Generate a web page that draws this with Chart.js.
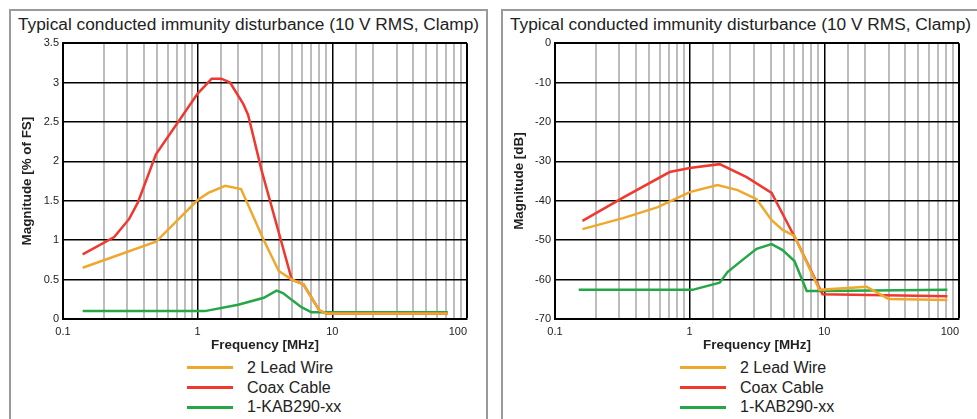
<!DOCTYPE html>
<html lang="en">
<head>
  <meta charset="UTF-8" />
  <title>Typical conducted immunity disturbance</title>
  <script src="https://cdn.jsdelivr.net/npm/chart.js"></script>
  <style>
    body {
      margin: 0;
      background: #fff;
      font-family: 'Liberation Sans', Arial, sans-serif;
      width: 977px;
      height: 419px;
      overflow: hidden;
      position: relative;
    }
    .panel {
      position: absolute;
      top: 9px;
      width: 475px;
      height: 420px;
      border: 2px solid #9a9a9a;
      border-bottom: none;
      background: #fff;
    }
    .panel canvas { position: absolute; left: 0; top: 0; }
    .title {
      position: absolute;
      left: 0;
      top: 1px;
      width: 475px;
      line-height: 24px;
      text-align: center;
      font-size: 17.3px;
      color: #222;
      white-space: nowrap;
    }
    .legend { position: absolute; left: 176px; top: 347px; }
    .legend .row {
      height: 19.7px;
      display: flex;
      align-items: center;
      font-size: 16px;
      color: #222;
      white-space: nowrap;
    }
    .legend .line { width: 46px; height: 3px; margin-right: 14px; }
  </style>
</head>
<body>
  <div class="panel" style="left:9px">
    <div class="title">Typical conducted immunity disturbance (10 V RMS, Clamp)</div>
    <canvas id="chartPct" width="486" height="342"></canvas>
    <div class="legend" id="legendPct"></div>
  </div>
  <div class="panel" style="left:501px">
    <div class="title">Typical conducted immunity disturbance (10 V RMS, Clamp)</div>
    <canvas id="chartDb" width="486" height="342"></canvas>
    <div class="legend" id="legendDb" style="left:177px"></div>
  </div>

  <script>
    const seriesNames = ['2 Lead Wire', 'Coax Cable', '1-KAB290-xx'];
    const seriesColors = ['#efa82c', '#f0382f', '#25a647'];
    const freqTickLabels = ['0.1', '1', '10', '100'];

    // left chart: magnitude in % of FS
    const leadFreqPct = [0.14, 0.49, 1.0, 1.2, 1.6, 2.1, 3.1, 4.0, 5.0, 6.1, 8.0, 9.0, 72];
    const leadPct = [0.65, 0.98, 1.51, 1.6, 1.69, 1.65, 1.0, 0.61, 0.5, 0.44, 0.11, 0.07, 0.07];
    const coaxFreqPct = [0.14, 0.24, 0.31, 0.36, 0.49, 1.0, 1.27, 1.5, 1.74, 2.18, 2.37, 2.98, 5.0, 6.1, 8.0, 9.0, 72];
    const coaxPct = [0.82, 1.04, 1.27, 1.48, 2.09, 2.86, 3.05, 3.05, 3.0, 2.73, 2.59, 1.89, 0.5, 0.44, 0.11, 0.07, 0.07];
    const kabFreqPct = [0.14, 1.13, 2.0, 3.1, 3.85, 4.3, 5.1, 5.9, 7.0, 72];
    const kabPct = [0.1, 0.1, 0.18, 0.27, 0.36, 0.33, 0.23, 0.15, 0.085, 0.085];
    const pctTicks = [0, 3.5, 0.5];

    // right chart: magnitude in dB
    const leadFreqDb = [0.16, 0.32, 0.58, 1.0, 1.61, 2.27, 3.14, 4.06, 4.9, 6.0, 9.2, 20.6, 30, 82];
    const leadDb = [-47.2, -44.4, -41.6, -37.8, -36, -37.3, -39.6, -44.9, -47.4, -48.9, -62.6, -61.8, -64.9, -65.2];
    const coaxFreqDb = [0.16, 0.32, 0.71, 1.0, 1.67, 2.65, 4.06, 6.2, 9.7, 82];
    const coaxDb = [-45.1, -39.2, -32.7, -31.7, -30.7, -34, -38, -50, -63.7, -64.2];
    const kabFreqDb = [0.15, 1.05, 1.67, 1.91, 2.47, 3.14, 4.06, 4.9, 6.0, 7.4, 9.7, 82];
    const kabDb = [-62.6, -62.6, -60.8, -58.1, -55, -52.2, -51, -52.5, -55.3, -62.9, -62.9, -62.6];
    const dbTicks = [-70, 0, 10];

    const font = 'Liberation Sans, Arial, sans-serif';

    function isDecade(v) {
      const l = Math.log10(v);
      return Math.abs(l - Math.round(l)) < 1e-6;
    }

    function points(xs, ys) {
      return xs.map((x, i) => ({ x: x, y: ys[i] }));
    }

    // decade labels only; the last one sits inside the plot edge like the original
    function freqLabel(v) {
      if (!isDecade(v)) return '';
      const i = Math.round(Math.log10(v)) + 1;
      const txt = freqTickLabels[i];
      return i === freqTickLabels.length - 1 ? txt + '\u00a0'.repeat(6) : txt;
    }

    function makeChart(id, legendId, yTitle, yRange, series) {
      const chart = new Chart(document.getElementById(id), {
        type: 'line',
        data: {
          datasets: series.map((s, i) => ({
            label: seriesNames[i],
            data: points(s[0], s[1]),
            borderColor: seriesColors[i],
            borderWidth: 2.5,
            pointRadius: 0,
            fill: false,
            tension: 0
          }))
        },
        options: {
          responsive: false,
          animation: false,
          layout: { padding: { left: 0, right: 30, top: 32.2, bottom: 0 } },
          plugins: {
            legend: { display: false },
            tooltip: { enabled: false }
          },
          scales: {
            x: {
              type: 'logarithmic',
              min: 0.1,
              max: 100,
              afterFit: (scale) => { scale.height = 34; },
              border: { color: '#000', width: 2 },
              grid: {
                drawTicks: false,
                color: (ctx) => isDecade(ctx.tick.value) ? '#000' : '#bdbdbd',
                lineWidth: (ctx) => {
                  if (!isDecade(ctx.tick.value)) return 2;
                  return ctx.tick.value >= 100 ? 2 : 1.5;
                }
              },
              ticks: {
                autoSkip: false,
                maxRotation: 0,
                padding: 6,
                color: '#222',
                font: { family: font, size: 11 },
                callback: freqLabel
              },
              title: {
                display: true,
                text: 'Frequency [MHz]',
                color: '#222',
                font: { family: font, size: 13.4, weight: 'bold' },
                padding: { top: 2, bottom: 0 }
              }
            },
            y: {
              min: yRange[0],
              max: yRange[1],
              afterFit: (scale) => { scale.width = 52; },
              border: { color: '#000', width: 2 },
              grid: {
                drawTicks: false,
                color: '#000',
                lineWidth: (ctx) => ctx.tick.value === yRange[1] ? 2 : 1.5
              },
              ticks: {
                stepSize: yRange[2],
                padding: 4,
                color: '#222',
                font: { family: font, size: 11 },
                callback: (v) => String(Number(v.toFixed(2)))
              },
              title: {
                display: true,
                text: yTitle,
                color: '#222',
                font: { family: font, size: 13.4, weight: 'bold' },
                padding: { top: 8, bottom: 0 }
              }
            }
          }
        }
      });

      // legend as a single column under the axis
      const box = document.getElementById(legendId);
      chart.data.datasets.forEach((ds) => {
        const row = document.createElement('div');
        row.className = 'row';
        const line = document.createElement('span');
        line.className = 'line';
        line.style.background = ds.borderColor;
        row.appendChild(line);
        row.appendChild(document.createTextNode(ds.label));
        box.appendChild(row);
      });
      return chart;
    }

    makeChart('chartPct', 'legendPct', 'Magnitude [% of FS]', pctTicks, [
      [leadFreqPct, leadPct],
      [coaxFreqPct, coaxPct],
      [kabFreqPct, kabPct]
    ]);

    makeChart('chartDb', 'legendDb', 'Magnitude [dB]', dbTicks, [
      [leadFreqDb, leadDb],
      [coaxFreqDb, coaxDb],
      [kabFreqDb, kabDb]
    ]);
  </script>
</body>
</html>
